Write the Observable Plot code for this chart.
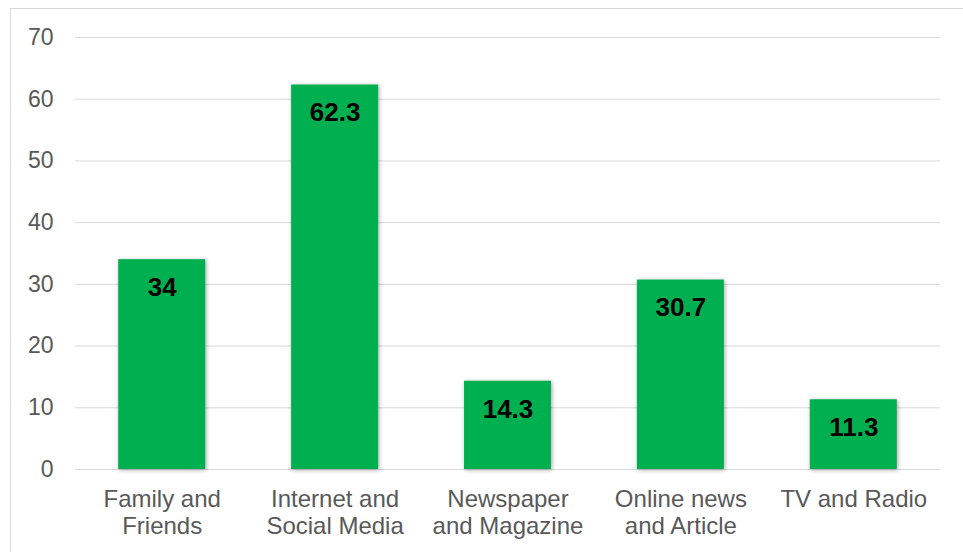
<!DOCTYPE html>
<html>
<head>
<meta charset="utf-8">
<script src="https://cdn.jsdelivr.net/npm/d3@7"></script>
<script src="https://cdn.jsdelivr.net/npm/@observablehq/plot@0.6"></script>
<style>
  html, body { margin: 0; padding: 0; background: #fff; }
  #wrap { position: relative; width: 963px; height: 552px; overflow: hidden; }
  #border { position: absolute; left: 10px; top: 8px; width: 960px; height: 560px; border: 1px solid #d9d9d9; box-sizing: border-box; pointer-events: none; }
  g[aria-label="bar"] rect { filter: drop-shadow(1px 1px 2px rgba(0,0,0,0.35)); }
</style>
</head>
<body>
<div id="wrap"><div id="border"></div><div id="chart"></div></div>
<script>
const categories = ["Family and\nFriends", "Internet and\nSocial Media", "Newspaper\nand Magazine", "Online news\nand Article", "TV and Radio"];
const values = [34, 62.3, 14.3, 30.7, 11.3];
const yTicks = [0, 10, 20, 30, 40, 50, 60, 70];

const data = categories.map((c, i) => ({category: c, value: values[i]}));

const chart = Plot.plot({
  width: 963,
  height: 552,
  marginLeft: 75,
  marginRight: 23,
  marginTop: 37,
  marginBottom: 83,
  style: {fontFamily: "Liberation Sans, Arial, sans-serif", background: "transparent"},
  x: {domain: categories, paddingInner: 0.497, paddingOuter: 0.25, round: false, axis: null},
  y: {domain: [0, 70], ticks: yTicks, axis: null},
  marks: [
    Plot.gridY(yTicks, {stroke: "#d9d9d9", strokeOpacity: 1, strokeWidth: 1}),
    Plot.axisY(yTicks, {tickSize: 0, tickPadding: 22, fontSize: 23, fill: "#595959", label: null}),
    Plot.barY(data, {x: "category", y: "value", fill: "#00B050"}),
    Plot.text(data, {x: "category", y: "value", text: d => String(d.value), dy: 28, fontSize: 26, fontWeight: "bold", fill: "#000"}),
    Plot.text(data, {x: "category", text: "category", frameAnchor: "bottom", lineAnchor: "top", dy: 18, fontSize: 24, lineHeight: 1.125, fill: "#595959"})
  ]
});
document.getElementById("chart").appendChild(chart);
</script>
</body>
</html>
